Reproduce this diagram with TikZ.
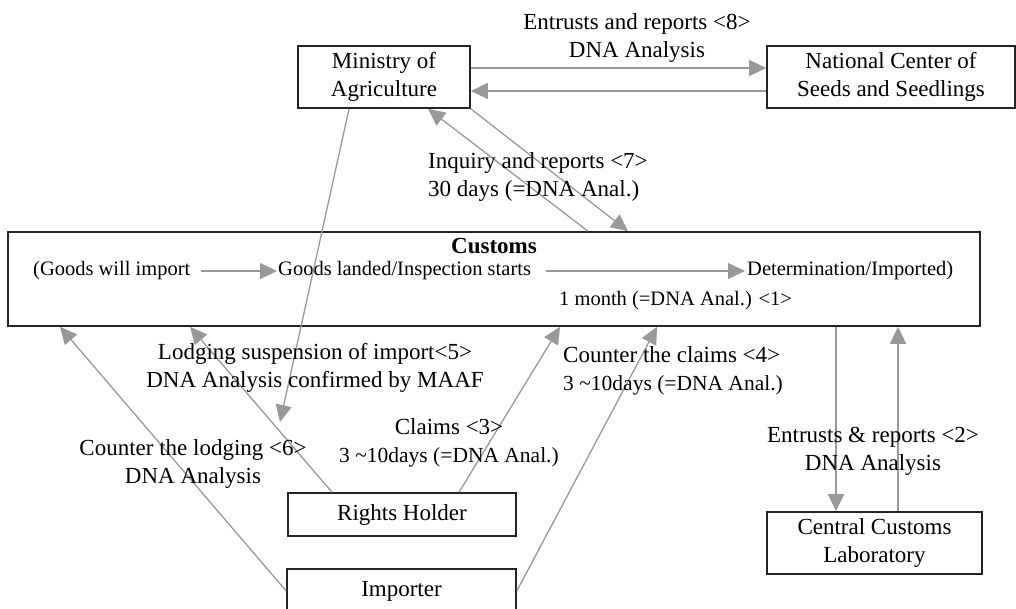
\documentclass[tikz,border=0pt]{standalone}
\usepackage{fontspec}
\setmainfont{Liberation Serif}
\usetikzlibrary{arrows.meta,calc}
\definecolor{arrgray}{RGB}{152,153,156}
\definecolor{boxline}{RGB}{35,35,35}
\begin{document}
\begin{tikzpicture}[x=1pt,y=-1pt,
  every node/.style={font=\fontsize{23}{28}\selectfont, inner sep=0pt},
  box/.style={draw=boxline, line width=1.6pt, align=center},
  inrow/.style={anchor=west, font=\fontsize{20.5}{25}\selectfont},
  lbl/.style={align=center},
  lbll/.style={align=left, anchor=west},
  conn/.style={draw=arrgray, line width=1.3pt, -{Triangle[length=17pt,width=16pt]}}]
\clip (0,0) rectangle (1016,608);
\fill[white] (0,0) rectangle (1016,608);

% boxes
\node[box, minimum width=172pt, minimum height=62pt] (min) at (384,77) {Ministry of\\Agriculture};
\node[box, minimum width=248pt, minimum height=62pt] (nat) at (891,77) {National Center of\\Seeds and Seedlings};
\node[box, minimum width=972pt, minimum height=94pt] (cust) at (494,279) {};
\node[box, minimum width=228pt, minimum height=43pt] (rh) at (402,514.5) {Rights Holder};
\node[box, minimum width=229pt, minimum height=44pt] (imp) at (401.5,591) {Importer};
\node[box, minimum width=215pt, minimum height=62pt] (lab) at (874.5,543) {Central Customs\\Laboratory};

% contents of Customs
\node[font=\fontsize{23}{28}\selectfont\bfseries] (ctitle) at (494,246) {Customs};
\node[inrow] (t1) at (33,271) {(Goods will import};
\node[inrow] (t2) at (278,271) {Goods landed/Inspection starts};
\node[inrow] (t3) at (747,271) {Determination/Imported)};
\node[inrow] (t4) at (559,301) {1 month (=DNA Anal.) <1>};
\draw[conn, shorten <=10pt, shorten >=1pt] (t1.east) -- (t2.west);
\draw[conn, shorten <=15pt, shorten >=2pt] (t2.east) -- (t3.west);

% connectors
\draw[conn] ([yshift=9pt]min.east) -- ([yshift=9pt]nat.west);
\draw[conn] ([yshift=-14pt]nat.west) -- ([yshift=-14pt]min.east);

\draw[conn] ([xshift=94pt]cust.north) -- ([xshift=44pt]min.south);
\draw[conn] (min.south east) -- ([xshift=134pt]cust.north);

\coordinate (m5) at (280,422);
\draw[conn] ([xshift=-35pt]min.south) -- (m5);

\draw[conn] (imp.west) -- ([xshift=-434pt]cust.south);
\draw[conn] ([xshift=-70pt]rh.north) -- ([xshift=-304pt]cust.south);
\draw[conn] ([xshift=57pt]rh.north) -- ([xshift=66pt]cust.south);
\draw[conn] (imp.east) -- ([xshift=163pt]cust.south);

\draw[conn] ([xshift=342pt]cust.south) -- ([xshift=-38.5pt]lab.north);
\draw[conn] ([xshift=23.5pt]lab.north) -- ([xshift=404pt]cust.south);

% labels
\node[lbl] (l8) at (637,38) {Entrusts and reports <8>\\DNA Analysis};
\node[lbll] (l7) at (428,177) {Inquiry and reports <7>\\30 days (=DNA Anal.)};
\node[lbl] (l5) at (315,367.5) {Lodging suspension of import<5>\\DNA Analysis confirmed by MAAF};
\node[lbl] (l3) at (449,442.5) {Claims <3>\\{\fontsize{21.5}{28}\selectfont 3 \textasciitilde10days (=DNA Anal.)}};
\node[lbl] (l6) at (193,463.5) {Counter the lodging <6>\\DNA Analysis};
\node[lbll] (l4) at (563,371) {Counter the claims <4>\\{\fontsize{21.5}{28}\selectfont 3 \textasciitilde10days (=DNA Anal.)}};
\node[lbl] (l2) at (873,451.5) {Entrusts \& reports <2>\\DNA Analysis};
\end{tikzpicture}
\end{document}
